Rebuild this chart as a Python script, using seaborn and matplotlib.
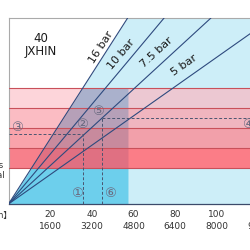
import numpy as np
import pandas as pd
import matplotlib
matplotlib.use("Agg")
import matplotlib.pyplot as plt
import seaborn as sns

# ---- data ----
pressures = ["16 bar", "10 bar", "7.5 bar", "5 bar"]
slopes = [1.75, 1.34, 1.03, 0.79]
label_x = [44.4, 54.0, 71.2, 84.2]
label_y = [84.4, 80.6, 81.7, 74.7]

zone_edges = [0, 19.5, 30, 41, 51.5, 62.5, 100]
left_colors = ["#ffffff", "#f7808b", "#f9a3ab", "#fbbcc3", "#fdd5da", "#ffffff"]
mid_colors = ["#6dcfec", "#e07082", "#c88a9d", "#b6a0b8", "#aab1cc", "#cdeef8"]
right_colors = ["#cdeef8", "#fb7d87", "#f2a0aa", "#f0b5bf", "#ecc8d2", "#cdeef8"]
blue_limit = 57.3

dash_x = [35.7, 44.8]
dash_y = [37.6, 46.2]

marker_labels = ["①", "②", "③", "④", "⑤", "⑥"]
marker_x = [32.9, 35.3, 4.1, 114.9, 42.9, 48.7]
marker_y = [5.4, 42.5, 41.0, 43.0, 49.5, 5.4]

tick_vals = [20, 40, 60, 80, 100, 120]
tick_row1 = ["20", "40", "60", "80", "100", "120"]
tick_row2 = ["1600", "3200", "4800", "6400", "8000", "9600"]

title_lines = ["40", "JXHIN"]

# ---- figure ----
sns.set_theme(style="white")
plt.rcParams["font.family"] = ["DejaVu Sans", "Noto Sans CJK SC"]

fig = plt.figure(figsize=(2.5, 2.5), dpi=100)
ax = fig.add_axes([8.5 / 250, 46 / 250, 250.2 / 250, 186 / 250])
ax.set_xlim(0, 120)
ax.set_ylim(0, 100)

k16 = slopes[0]
for i in range(len(zone_edges) - 1):
    y0, y1 = zone_edges[i], zone_edges[i + 1]
    ax.axhspan(y0, y1, color=right_colors[i], lw=0, zorder=1)
    ys = np.array([y0, y1])
    ax.fill_betweenx(ys, 0, ys / k16, color=left_colors[i], lw=0, zorder=2)
    ax.fill_betweenx(ys, ys / k16, blue_limit, color=mid_colors[i], lw=0, zorder=2)

for y in zone_edges[1:-1]:
    ax.axhline(y, color="#c9505a", lw=0.8, zorder=3)

rows = []
for p, k in zip(pressures, slopes):
    xe = min(120, 100 / k)
    rows.append({"p": p, "flow": 0, "y": 0})
    rows.append({"p": p, "flow": xe, "y": k * xe})
df = pd.DataFrame(rows)
sns.lineplot(data=df, x="flow", y="y", units="p", estimator=None,
             color="#2e4a7e", lw=0.8, ax=ax, zorder=4, legend=False)

# dashed guides
dash_kw = dict(color="#4a5570", lw=0.7, linestyles=(0, (3, 2)), zorder=5)
ax.hlines(dash_y[0], 0, dash_x[0], **dash_kw)
ax.vlines(dash_x[0], 0, dash_y[0], **dash_kw)
ax.hlines(dash_y[1], dash_x[1], 120, **dash_kw)
ax.vlines(dash_x[1], 0, dash_y[1], **dash_kw)

# pressure labels
px_per_x = 250.2 / 120
px_per_y = 186 / 100
for p, k, lx, ly in zip(pressures, slopes, label_x, label_y):
    ang = np.degrees(np.arctan(k * px_per_y / px_per_x))
    ax.text(lx, ly, p, rotation=ang, rotation_mode="anchor", ha="center",
            va="center", fontsize=8, color="#1a1a1a", zorder=6)

ax.text(15.6, 85.5, "\n".join(title_lines), ha="center", va="center",
        fontsize=8.5, color="#1a1a1a", linespacing=1.0, zorder=6)

for m, mx, my in zip(marker_labels, marker_x, marker_y):
    ax.text(mx, my, m, ha="center", va="center", fontsize=9.5,
            color="#6a6a80", zorder=6,
            family=["DejaVu Sans", "Noto Sans CJK SC"])

ax.set_xticks(tick_vals)
ax.set_xticklabels([f"{a}\n{b}" for a, b in zip(tick_row1, tick_row2)])
ax.set_yticks([])
ax.tick_params(axis="x", length=0, pad=4.5, labelsize=6.5, labelcolor="#333333")
for t in ax.get_xticklabels():
    t.set_linespacing(1.45)
ax.set_xlabel("")
ax.set_ylabel("")

for s in ["left", "top", "right"]:
    ax.spines[s].set_color("#aaaaaa")
    ax.spines[s].set_linewidth(0.8)
ax.spines["bottom"].set_color("#3c4a6a")
ax.spines["bottom"].set_linewidth(0.9)

# clipped side labels
fig.text(12 / 250, 1 - 215 / 250, "【rpm】", ha="right", va="center",
         fontsize=6, color="#333333", family=["DejaVu Sans", "Noto Sans CJK SC"])
fig.text(3 / 250, 1 - 165 / 250, "Pumps", ha="right", va="center",
         fontsize=6, color="#333333")
fig.text(5 / 250, 1 - 176 / 250, "Optional", ha="right", va="center",
         fontsize=6, color="#333333")

fig.savefig("out.png", dpi=100)
